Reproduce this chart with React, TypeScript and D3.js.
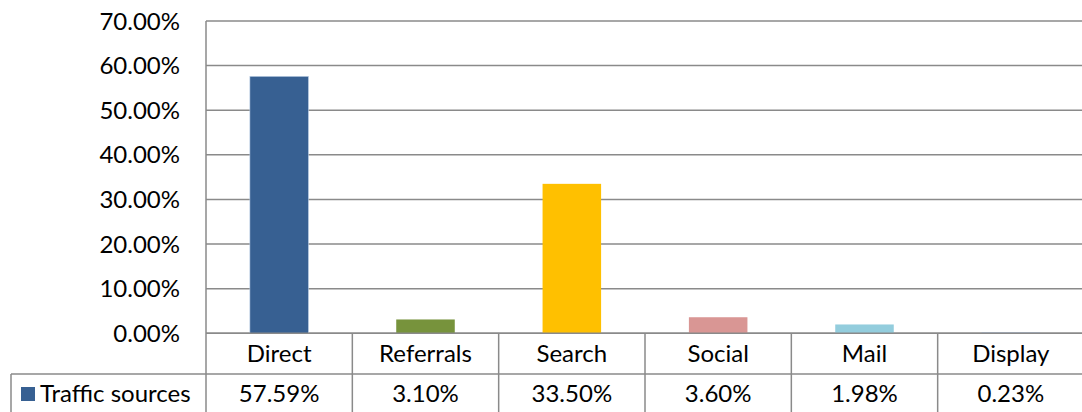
import React from "react";
import * as d3 from "d3";

const categories = ["Direct", "Referrals", "Search", "Social", "Mail", "Display"];
const values = [57.59, 3.1, 33.5, 3.6, 1.98, 0.23];
const valueLabels = ["57.59%", "3.10%", "33.50%", "3.60%", "1.98%", "0.23%"];
const barColors = ["#376092", "#77933C", "#FFC000", "#D99694", "#93CDDD", "#A6B9D6"];
const yTicks = [0, 10, 20, 30, 40, 50, 60, 70];
const seriesName = "Traffic sources";

const W = 1082;
const H = 412;
const left = 206;
const right = 1084;
const top = 21;
const zeroY = 333.3;
const row1 = 374;
const row2 = 416;
const font = "Lato, 'Open Sans', sans-serif";
const grid = "#8A8A8A";

export default function App() {
  const x = d3.scaleBand<string>().domain(categories).range([left, right]).paddingInner(0).paddingOuter(0);
  const y = d3.scaleLinear().domain([0, 70]).range([zeroY, top]);
  const bw = x.bandwidth() * 0.4;
  return (
    <svg width={W} height={H} style={{ position: "absolute", left: 0, top: 0, background: "#fff" }}>
      {yTicks.map((t) => (
        <g key={t}>
          <line x1={left} x2={right} y1={y(t)} y2={y(t)} stroke={grid} strokeWidth={1.5} />
          <text x={180} y={y(t)} dy="0.36em" textAnchor="end" fontFamily={font} fontSize={24} fill="#000">
            {t.toFixed(2)}%
          </text>
        </g>
      ))}
      {categories.map((c, i) => (
        <rect
          key={c}
          x={(x(c) as number) + (x.bandwidth() - bw) / 2}
          y={y(values[i])}
          width={bw}
          height={zeroY - y(values[i])}
          fill={barColors[i]}
          stroke={i === 0 ? "#B9CDE5" : "none"}
          strokeWidth={0.6}
        />
      ))}
      {/* axis line */}
      <line x1={left} x2={left} y1={top} y2={row2} stroke={grid} strokeWidth={1.5} />
      {/* table lines */}
      <line x1={left} x2={right} y1={zeroY} y2={zeroY} stroke={grid} strokeWidth={1.5} />
      <line x1={11} x2={right} y1={row1} y2={row1} stroke={grid} strokeWidth={1.5} />
      <line x1={11} x2={11} y1={row1} y2={row2} stroke={grid} strokeWidth={1.5} />
      {categories.map((c, i) => (
        <line key={"v" + c} x1={(x(c) as number) + x.bandwidth()} x2={(x(c) as number) + x.bandwidth()} y1={zeroY} y2={row2} stroke={grid} strokeWidth={1.5} />
      ))}
      {categories.map((c, i) => (
        <g key={"t" + c}>
          <text x={(x(c) as number) + x.bandwidth() / 2} y={(zeroY + row1) / 2} dy="0.36em" textAnchor="middle" fontFamily={font} fontSize={24}>
            {c}
          </text>
          <text x={(x(c) as number) + x.bandwidth() / 2} y={393} dy="0.36em" textAnchor="middle" fontFamily={font} fontSize={24}>
            {valueLabels[i]}
          </text>
        </g>
      ))}
      <rect x={21} y={387} width={14} height={14} fill={barColors[0]} />
      <text x={40} y={393} dy="0.36em" fontFamily={font} fontSize={24}>
        {seriesName}
      </text>
    </svg>
  );
}
